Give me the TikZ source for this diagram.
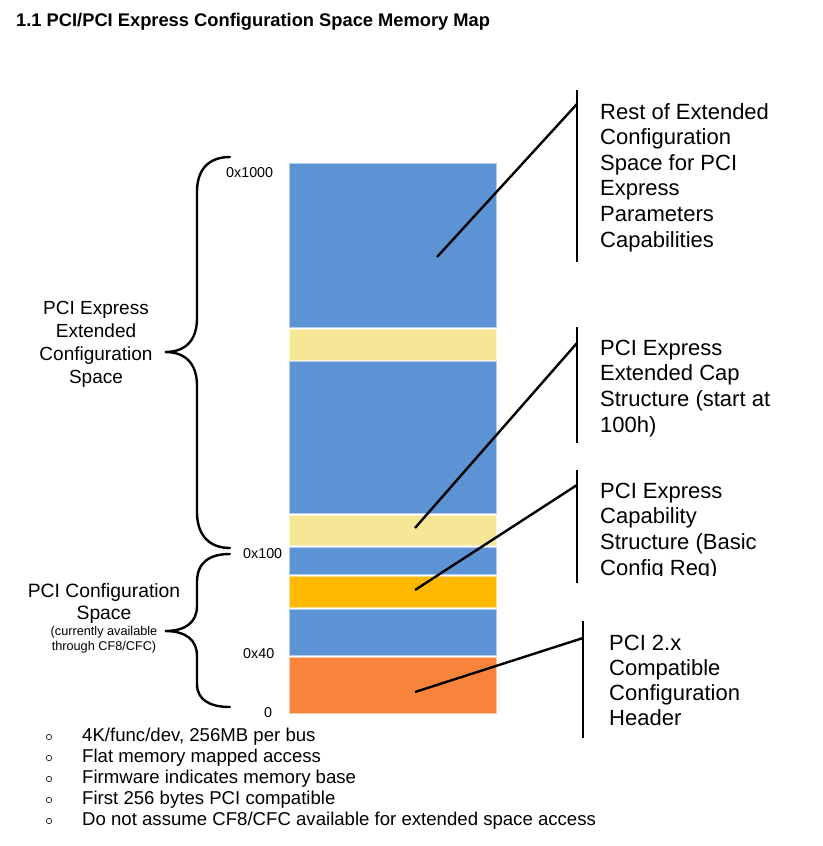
\documentclass[tikz,border=0pt]{standalone}
\usepackage{fontspec}
\setmainfont{Liberation Sans}
\definecolor{mblue}{HTML}{5B93D5}
\definecolor{myellow}{HTML}{F6E797}
\definecolor{mgold}{HTML}{FFB900}
\definecolor{morange}{HTML}{F7843A}
\begin{document}
\begin{tikzpicture}[x=1pt,y=-1pt,
  blk/.style={rectangle, anchor=north west, inner sep=0pt, outer sep=0pt, minimum width=207pt, draw=#1!45!white, line width=0.8pt, fill=#1},
  lead/.style={line width=2.4pt},
  bar/.style={line width=2.4pt},
  brace/.style={line width=2.4pt, line cap=round},
  rtext/.style={anchor=base west, align=left, inner sep=0pt, font=\fontsize{22}{25.6}\selectfont},
  ltext/.style={anchor=base, align=center, inner sep=0pt, font=\fontsize{19}{22.7}\selectfont},
  stext/.style={anchor=base, align=center, inner sep=0pt, font=\fontsize{12.7}{15}\selectfont},
  hexlab/.style={anchor=base west, inner sep=0pt, font=\fontsize{14.3}{17}\selectfont},
  btext/.style={anchor=base west, inner sep=0pt, font=\fontsize{18.6}{21}\selectfont},
  bdot/.style={line width=0.6pt}
]
\useasboundingbox (0,0) rectangle (822,846);

% title
\node[anchor=base west, inner sep=0pt, font=\bfseries\fontsize{18.3}{21}\selectfont] (title) at (16,26) {1.1 PCI/PCI Express Configuration Space Memory Map};

% memory blocks
\node[blk=mblue,   minimum height=164pt] (b1) at (289,163) {};
\node[blk=myellow, minimum height=31pt]  (b2) at (289,329) {};
\node[blk=mblue,   minimum height=152pt] (b3) at (289,361) {};
\node[blk=myellow, minimum height=30pt]  (b4) at (289,515) {};
\node[blk=mblue,   minimum height=27pt]  (b5) at (289,547) {};
\node[blk=mgold,   minimum height=31pt]  (b6) at (289,576) {};
\node[blk=mblue,   minimum height=46pt]  (b7) at (289,609) {};
\node[blk=morange, minimum height=56pt]  (b8) at (289,657) {};

% address labels
\node[hexlab] (a1) at (226,177) {0x1000};
\node[hexlab] (a2) at (243,558) {0x100};
\node[hexlab] (a3) at (243,658) {0x40};
\node[hexlab] (a4) at (264,717) {0};

% braces
\draw[brace] (230,157) .. controls (210,157) and (197,168) .. (197,192) -- (197,318)
  .. controls (197,340) and (186,352) .. (165,352)
  .. controls (186,352) and (197,364) .. (197,386) -- (197,512)
  .. controls (197,536) and (210,548) .. (230,548);
\draw[brace] (230,554) .. controls (210,554) and (197,562) .. (197,582) -- (197,606)
  .. controls (197,622) and (186,631) .. (165,631)
  .. controls (186,631) and (197,640) .. (197,656) -- (197,684)
  .. controls (197,700) and (210,707) .. (230,707);

% left labels (anchor = baseline of last line)
\node[ltext] (l1) at (96,383) {PCI Express\\Extended\\Configuration\\Space};
\node[ltext, font=\fontsize{19.3}{22}\selectfont] (l2) at (104,619) {PCI Configuration\\Space};
\node[stext] (l3) at (104,650) {(currently available\\through CF8/CFC)};

% bars and leader lines
\coordinate (t1) at (577,90);  \coordinate (u1) at (577,262);
\coordinate (t2) at (577,327); \coordinate (u2) at (577,443);
\coordinate (t3) at (577,470); \coordinate (u3) at (577,583);
\coordinate (t4) at (583,621); \coordinate (u4) at (583,738);
\coordinate (s1) at (437,257); \coordinate (j1) at (577,104);
\coordinate (s2) at (415,528); \coordinate (j2) at (577,343);
\coordinate (s3) at (415,590); \coordinate (j3) at (577,485);
\coordinate (s4) at (415,692); \coordinate (j4) at (583,638);
\draw[bar] (t1) -- (u1);
\draw[bar] (t2) -- (u2);
\draw[bar] (t3) -- (u3);
\draw[bar] (t4) -- (u4);
\draw[lead] (s1) -- (j1);
\draw[lead] (s2) -- (j2);
\draw[lead] (s3) -- (j3);
\draw[lead] (s4) -- (j4);

% right labels (anchor = baseline of last line)
\node[rtext] (r1) at (600,247) {Rest of Extended\\Configuration\\Space for PCI\\Express\\Parameters\\Capabilities};
\node[rtext] (r2) at (600,432) {PCI Express\\Extended Cap\\Structure (start at\\100h)};
\begin{scope}
\clip (590,470) rectangle (822,575.5);
\node[rtext] (r3) at (600,575) {PCI Express\\Capability\\Structure (Basic\\Config Req)};
\end{scope}
\node[rtext, font=\fontsize{22}{25}\selectfont] (r4) at (609,725) {PCI 2.x\\Compatible\\Configuration\\Header};

% bullet list
\foreach \i/\t in {0/{4K/func/dev, 256MB per bus},1/{Flat memory mapped access},2/{Firmware indicates memory base},3/{First 256 bytes PCI compatible},4/{Do not assume CF8/CFC available for extended space access}}{
  \draw[bdot] (49,{737+21*\i}) circle (2.7pt);
  \node[btext] (bl\i) at (82,{741+21*\i}) {\t};
}
\end{tikzpicture}
\end{document}
